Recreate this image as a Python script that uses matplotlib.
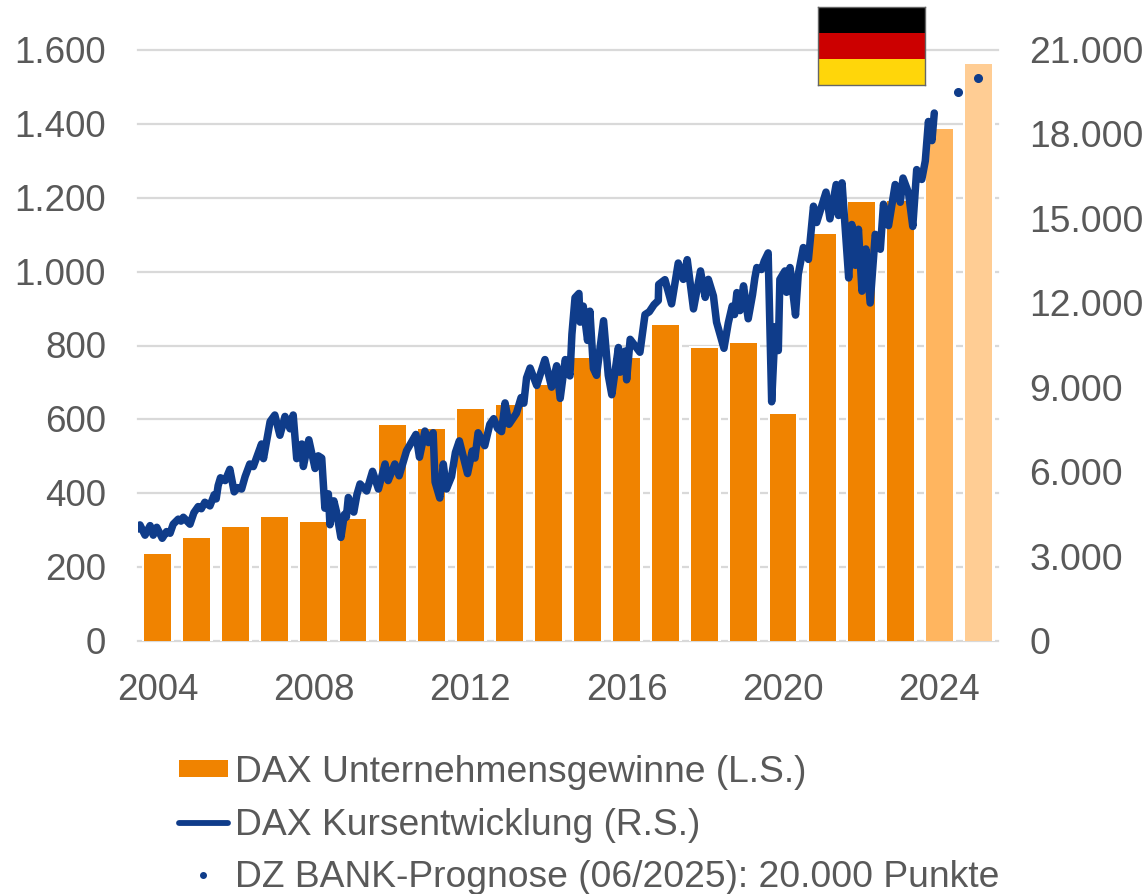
#!/bin/python3
import matplotlib
matplotlib.use('Agg')
import matplotlib.pyplot as plt
from matplotlib.patches import Patch, Rectangle
from matplotlib.lines import Line2D
from matplotlib.transforms import ScaledTranslation

plt.rcParams['font.family'] = ['Liberation Sans', 'DejaVu Sans']

W, H = 1148, 895
GREY = '#595959'
ORANGE = '#F08300'
BLUE = '#0F3C8A'

years = list(range(2004, 2026))
profits = [236, 279, 309, 336, 322, 330, 585, 574, 628, 639, 693,
           766, 766, 855, 793, 807, 615, 1102, 1188, 1190, 1386, 1562]
bar_colors = [ORANGE] * 20 + ['#FFB55F', '#FFCD94']
xtick_years = [2004, 2008, 2012, 2016, 2020, 2024]

dax_t = [2004.00, 2004.05, 2004.18, 2004.31, 2004.39, 2004.48, 2004.62, 2004.73, 2004.82, 2004.90,
         2005.03, 2005.10, 2005.16, 2005.33, 2005.43, 2005.54, 2005.62, 2005.71, 2005.84, 2005.95,
         2006.00, 2006.05, 2006.11, 2006.23, 2006.35, 2006.46, 2006.55, 2006.65, 2006.74, 2006.86,
         2006.95, 2007.16, 2007.21, 2007.38, 2007.50, 2007.63, 2007.76, 2007.89, 2007.97, 2008.06,
         2008.19, 2008.23, 2008.37, 2008.53, 2008.61, 2008.70, 2008.78, 2008.87, 2008.91, 2009.01,
         2009.08, 2009.19, 2009.28, 2009.33, 2009.38, 2009.52, 2009.60, 2009.68, 2009.85, 2010.00,
         2010.15, 2010.32, 2010.40, 2010.57, 2010.68, 2010.87, 2011.11, 2011.20, 2011.34, 2011.43,
         2011.55, 2011.60, 2011.72, 2011.81, 2011.89, 2012.02, 2012.12, 2012.22, 2012.43, 2012.55,
         2012.62, 2012.70, 2012.87, 2013.00, 2013.10, 2013.20, 2013.30, 2013.39, 2013.49, 2013.68,
         2013.80, 2013.87, 2013.94, 2014.03, 2014.20, 2014.41, 2014.58, 2014.71, 2014.80, 2014.93,
         2015.05, 2015.10, 2015.18, 2015.28, 2015.31, 2015.39, 2015.50, 2015.56, 2015.65, 2015.73,
         2015.91, 2016.03, 2016.12, 2016.29, 2016.33, 2016.46, 2016.50, 2016.59, 2016.84, 2016.97,
         2017.08, 2017.20, 2017.31, 2017.32, 2017.48, 2017.65, 2017.82, 2017.95, 2018.05, 2018.21,
         2018.39, 2018.51, 2018.59, 2018.72, 2018.80, 2018.99, 2019.10, 2019.20, 2019.26, 2019.32,
         2019.40, 2019.49, 2019.61, 2019.72, 2019.78, 2019.83, 2019.95, 2020.02, 2020.12, 2020.21,
         2020.30, 2020.38, 2020.42, 2020.55, 2020.59, 2020.68, 2020.82, 2020.89, 2021.02, 2021.15,
         2021.28, 2021.36, 2021.60, 2021.70, 2021.86, 2021.92, 2022.01, 2022.18, 2022.26, 2022.35,
         2022.43, 2022.52, 2022.62, 2022.73, 2022.86, 2022.99, 2023.07, 2023.20, 2023.37, 2023.50,
         2023.57, 2023.71, 2023.82, 2023.92, 2024.05, 2024.14, 2024.22, 2024.31, 2024.37]
dax_v = [3980, 4125, 3760, 4100, 3760, 4040, 3650, 3888, 3829, 4150,
         4330, 4260, 4397, 4150, 4560, 4776, 4700, 4930, 4800, 5200,
         5050, 5520, 5800, 5700, 6100, 5300, 5450, 5400, 5841, 6290,
         6197, 7000, 6480, 7800, 8030, 7310, 7980, 7540, 8030, 6480,
         7000, 6200, 7150, 6130, 6580, 6500, 4720, 5230, 4130, 4980,
         4580, 3680, 4500, 4400, 5100, 4580, 5200, 5580, 5330, 6030,
         5400, 6290, 5700, 6290, 5870, 6760, 7340, 6530, 7460, 7050,
         7400, 5650, 5080, 6290, 5400, 5841, 6700, 7110, 5950, 6750,
         6500, 7400, 6940, 7700, 7900, 7550, 7440, 8460, 7700, 8091,
         8650, 8450, 9350, 9700, 9080, 10000, 9020, 9780, 8620, 10000,
         9420, 10900, 12200, 12350, 11330, 11900, 10680, 11720, 9680, 9440,
         11380, 9440, 8750, 10430, 9550, 10300, 9280, 10720, 10260, 11600,
         11700, 11950, 12100, 12670, 12840, 11980, 13430, 12850, 13550, 11800,
         13150, 12210, 12850, 12260, 11330, 10400, 11300, 11900, 11600, 12380,
         11740, 12620, 11450, 12300, 12900, 13270, 13200, 13500, 13790, 8500,
         11170, 10320, 12850, 13150, 12390, 13270, 11580, 13030, 13980, 13560,
         15450, 14870, 15950, 15000, 16220, 15120, 16280, 12900, 14800, 13350,
         14630, 12430, 13930, 12010, 14450, 13920, 15520, 14760, 16220, 15590,
         16450, 15930, 14730, 16750, 16400, 17060, 18460, 17780, 18760]

forecast_t = [2024.97, 2025.48]
forecast_v = [19500, 20000]

fig = plt.figure(figsize=(W / 100, H / 100), dpi=100)
ax = fig.add_axes([138 / W, 1 - 642 / H, 860 / W, 591 / H])

bar_x = [y + 0.5 for y in years]
ax.yaxis.grid(True, color='#D9D9D9', lw=1.6, zorder=0)
ax.set_axisbelow(True)
# white halo round the bars breaks up the gridlines, as in the original
ax.bar(bar_x, profits, width=0.69, color=bar_colors, edgecolor='white', lw=3.6, zorder=2)
ax.bar(bar_x, profits, width=0.69, color=bar_colors, zorder=3)

ax.set_xlim(2004, 2026)
ax.set_ylim(0, 1600)
ax.set_xticks([y + 0.5 for y in xtick_years])
ax.set_xticklabels([str(y) for y in xtick_years])
ax.set_yticks(range(0, 1601, 200))
ax.set_yticklabels([f'{v:,}'.replace(',', '.') for v in range(0, 1601, 200)])
ax.tick_params(axis='y', length=0, pad=23, labelsize=26.5, labelcolor=GREY)
ax.tick_params(axis='x', length=0, pad=22, labelsize=26.5, labelcolor=GREY)
for gl in ax.get_ygridlines():
    gl.set_clip_on(False)
for s in ax.spines.values():
    s.set_visible(False)

ax2 = ax.twinx()
ax2.plot(dax_t, dax_v, color=BLUE, lw=5.4, solid_capstyle='round', zorder=5)
ax2.plot(forecast_t, forecast_v, ls='none', marker='o', ms=5.5, color=BLUE, zorder=5)
ax2.set_ylim(0, 21000)
ax2.set_yticks(range(0, 21001, 3000))
ax2.set_yticklabels([f'{v:,}'.replace(',', '.') for v in range(0, 21001, 3000)])
ax2.tick_params(axis='y', length=0, pad=22.5, labelsize=26.8, labelcolor=GREY)
for s in ax2.spines.values():
    s.set_visible(False)

# nudge y labels up a little
up = ScaledTranslation(0, 1.5 / 100, fig.dpi_scale_trans)
for lab in ax.get_yticklabels() + ax2.get_yticklabels():
    lab.set_transform(lab.get_transform() + up)

# flag sits partly above the plot area
flag = fig.add_axes([818 / W, 1 - 86 / H, 107 / W, 78 / H])
flag.set_xlim(0, 1)
flag.set_ylim(0, 3)
for i, c in enumerate(['#FFD60A', '#CC0000', '#000000']):
    flag.add_patch(Rectangle((0, i), 1, 1, color=c, lw=0))
flag.set_xticks([])
flag.set_yticks([])
for s in flag.spines.values():
    s.set_color('#666666')
    s.set_linewidth(1)

handles = [Patch(color=ORANGE, lw=0),
           Line2D([], [], color=BLUE, lw=4.2, solid_capstyle='round'),
           Line2D([], [], ls='none', marker='o', ms=4, color=BLUE)]
labels = ['DAX Unternehmensgewinne (L.S.)',
          'DAX Kursentwicklung (R.S.)',
          'DZ BANK-Prognose (06/2025): 20.000 Punkte']
fig.legend(handles, labels, loc='upper left', bbox_to_anchor=(179 / W, 1 - 755.5 / H),
           bbox_transform=fig.transFigure, frameon=False, fontsize=26.85, labelcolor=GREY,
           borderpad=0, borderaxespad=0, handlelength=1.31, handleheight=0.32,
           handletextpad=0.19, labelspacing=0.46)

fig.savefig('out.png', dpi=100)
